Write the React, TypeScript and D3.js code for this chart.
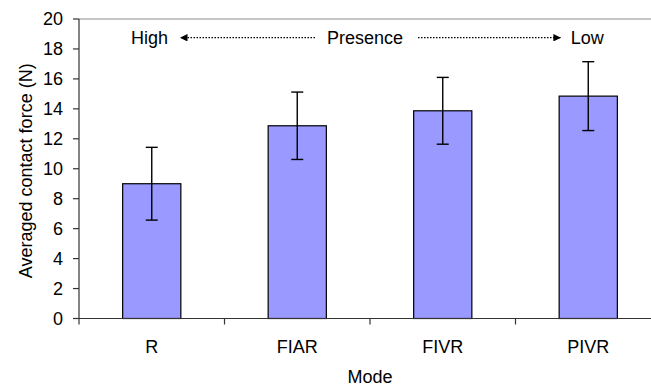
import * as d3 from "d3";

const modes = ["R", "FIAR", "FIVR", "PIVR"];
const means = [9.0, 12.87, 13.87, 14.85];
const errors = [2.43, 2.25, 2.23, 2.3];
const yTicks = [0, 2, 4, 6, 8, 10, 12, 14, 16, 18, 20];

const width = 651;
const height = 387;
const margin = { top: 19, left: 79, right: -10, bottom: 68.5 };
const font = "'Liberation Sans', Arial, sans-serif";

const App = () => {
  const x = d3
    .scaleBand<string>()
    .domain(modes)
    .range([margin.left, width - margin.right])
    .paddingInner(0.6)
    .paddingOuter(0.3);
  const y = d3
    .scaleLinear()
    .domain([0, 20])
    .range([height - margin.bottom, margin.top]);

  const step = x.step();
  const x0 = margin.left;
  const x1 = width - margin.right;
  const boundaries = d3.range(modes.length + 1).map((i) => x0 + i * step);

  // annotation row: y in data units, x as a fraction of the plot width
  const annY = y(18.75);
  const pos = d3.scaleLinear().domain([0, 1]).range([x0, x1]);

  return (
    <svg
      width={width}
      height={height}
      style={{ position: "absolute", left: 0, top: 0, background: "#fff" }}
      fontFamily={font}
    >
      <defs>
        <marker id="ah" viewBox="0 0 10 10" refX="10" refY="5" markerWidth="11" markerHeight="7.5" markerUnits="userSpaceOnUse" orient="auto">
          <path d="M0,0 L10,5 L0,10 z" fill="#000" />
        </marker>
      </defs>

      {/* top border */}
      <line x1={x0} x2={width} y1={y(20)} y2={y(20)} stroke="#8c8c8c" strokeWidth={1} />

      {/* bars */}
      {modes.map((m, i) => (
        <rect
          key={m}
          x={x(m)}
          y={y(means[i])}
          width={x.bandwidth()}
          height={y(0) - y(means[i])}
          fill="#9999ff"
          stroke="#000"
          strokeWidth={1.2}
        />
      ))}

      {/* error bars */}
      {modes.map((m, i) => {
        const cx = (x(m) ?? 0) + x.bandwidth() / 2;
        const hi = y(means[i] + errors[i]);
        const lo = y(means[i] - errors[i]);
        return (
          <g key={m} stroke="#000" strokeWidth={1.4}>
            <line x1={cx} x2={cx} y1={hi} y2={lo} />
            <line x1={cx - 6} x2={cx + 6} y1={hi} y2={hi} />
            <line x1={cx - 6} x2={cx + 6} y1={lo} y2={lo} />
          </g>
        );
      })}

      {/* y axis */}
      <line x1={x0} x2={x0} y1={y(0)} y2={y(20)} stroke="#333" strokeWidth={1.2} />
      {yTicks.map((t) => (
        <g key={t}>
          <line x1={x0 - 6} x2={x0} y1={y(t)} y2={y(t)} stroke="#333" strokeWidth={1.2} />
          <text x={x0 - 16} y={y(t)} dy="0.35em" textAnchor="end" fontSize={18} fill="#000">
            {t}
          </text>
        </g>
      ))}

      {/* x axis */}
      <line x1={x0} x2={x1} y1={y(0)} y2={y(0)} stroke="#333" strokeWidth={1.2} />
      {boundaries.map((b, i) => (
        <line key={i} x1={b} x2={b} y1={y(0)} y2={y(0) + 6} stroke="#333" strokeWidth={1.2} />
      ))}
      {modes.map((m) => (
        <text
          key={m}
          x={(x(m) ?? 0) + x.bandwidth() / 2}
          y={y(0) + 34}
          textAnchor="middle"
          fontSize={18}
          fill="#000"
        >
          {m}
        </text>
      ))}

      {/* axis titles */}
      <text x={(x0 + x1) / 2} y={383} textAnchor="middle" fontSize={18} fill="#000">
        Mode
      </text>
      <text
        transform={`translate(31.5, ${(y(0) + y(20)) / 2 + 2}) rotate(-90)`}
        textAnchor="middle"
        fontSize={18}
        fill="#000"
      >
        Averaged contact force (N)
      </text>

      {/* presence annotation */}
      <g fontSize={18} fill="#000">
        <text x={pos(0.153)} y={annY} dy="0.35em" textAnchor="end">High</text>
        <text x={pos(0.426)} y={annY} dy="0.35em" textAnchor="start">Presence</text>
        <text x={pos(0.845)} y={annY} dy="0.35em" textAnchor="start">Low</text>
      </g>
      <line
        x1={pos(0.4055)}
        x2={pos(0.1735)}
        y1={annY}
        y2={annY}
        stroke="#000"
        strokeWidth={1.3}
        strokeDasharray="1.5,1.5"
        markerEnd="url(#ah)"
      />
      <line
        x1={pos(0.5825)}
        x2={pos(0.828)}
        y1={annY}
        y2={annY}
        stroke="#000"
        strokeWidth={1.3}
        strokeDasharray="1.5,1.5"
        markerEnd="url(#ah)"
      />
    </svg>
  );
};

export default App;
